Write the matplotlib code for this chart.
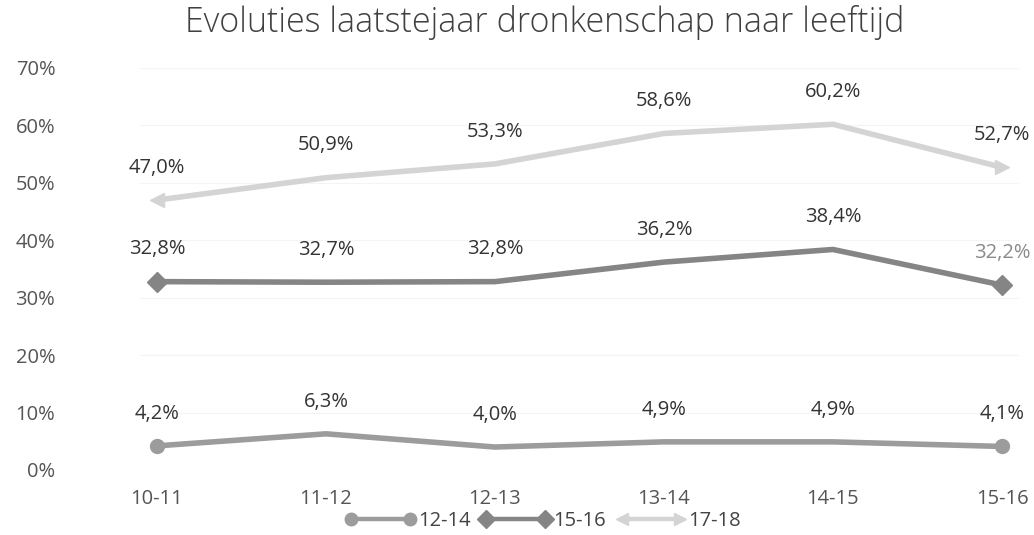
import matplotlib
matplotlib.use("Agg")
import matplotlib.pyplot as plt
from matplotlib.lines import Line2D
from matplotlib.legend_handler import HandlerLine2D

plt.rcParams['font.family'] = ['Open Sans', 'DejaVu Sans']

# data
years = ['10-11', '11-12', '12-13', '13-14', '14-15', '15-16']
age_groups = ['12-14', '15-16', '17-18']
drunk_12_14 = [4.2, 6.3, 4.0, 4.9, 4.9, 4.1]
drunk_15_16 = [32.8, 32.7, 32.8, 36.2, 38.4, 32.2]
drunk_17_18 = [47.0, 50.9, 53.3, 58.6, 60.2, 52.7]

series = [drunk_12_14, drunk_15_16, drunk_17_18]
colors = ['#9c9c9c', '#858585', '#d4d4d4']
end_markers = [('o', 'o'), ('D', 'D'), ('<', '>')]
label_colors = [['#333333'] * 6, ['#333333'] * 5 + ['#8a8a8a'], ['#333333'] * 6]


class EndMarkerHandler(HandlerLine2D):
    """legenda-lijn met eigen marker aan elk uiteinde"""
    def __init__(self, m_left, m_right, **kw):
        super().__init__(**kw)
        self.m_left = m_left
        self.m_right = m_right

    def create_artists(self, legend, orig_handle, xdescent, ydescent,
                       width, height, fontsize, trans):
        xdata, _ = self.get_xdata(legend, xdescent, ydescent, width, height, fontsize)
        y = (height - ydescent) / 2
        c = orig_handle.get_color()
        line = Line2D(xdata, [y, y], color=c, lw=3.2)
        left = Line2D([xdata[0]], [y], marker=self.m_left, color=c, ms=9, lw=0)
        right = Line2D([xdata[-1]], [y], marker=self.m_right, color=c, ms=9, lw=0)
        for a in (line, left, right):
            a.set_transform(trans)
        return [line, left, right]


fig = plt.figure(figsize=(10.34, 5.35), dpi=100)
ax = fig.add_axes([0.1354, 0.1215, 0.850, 0.7514])

x = list(range(len(years)))
handles = []
handler_map = {}
for vals, col, (ml, mr), lcols, name in zip(series, colors, end_markers, label_colors, age_groups):
    frac = [v / 100 for v in vals]
    h, = ax.plot(x, frac, color=col, lw=4, solid_capstyle='butt', zorder=3)
    ax.plot(x[0], frac[0], marker=ml, color=col, ms=10, lw=0, zorder=4)
    ax.plot(x[-1], frac[-1], marker=mr, color=col, ms=10, lw=0, zorder=4)
    for xi, v, f, lc in zip(x, vals, frac, lcols):
        ax.annotate(f'{v:.1f}%'.replace('.', ','), (xi, f), xytext=(0, 16),
                    textcoords='offset points', ha='center', va='bottom',
                    fontsize=14.5, color=lc)
    handles.append(h)
    handler_map[h] = EndMarkerHandler(ml, mr)

ax.set_xlim(-0.1, 5.1)
ax.set_ylim(0, 0.7)
ax.set_yticks([i / 10 for i in range(8)])
ax.set_yticklabels([f'{i * 10}%' for i in range(8)])
ax.set_xticks(x)
ax.set_xticklabels(years)
ax.tick_params(axis='y', length=0, pad=61, labelsize=14.5, labelcolor='#555555')
ax.tick_params(axis='x', length=0, pad=14, labelsize=14.5, labelcolor='#555555')
for lab in ax.get_yticklabels():
    lab.set_horizontalalignment('right')
for s in ax.spines.values():
    s.set_visible(False)
ax.grid(axis='y', color='#f4f4f4', lw=0.8)
ax.set_axisbelow(True)

fig.suptitle('Evoluties laatstejaar dronkenschap naar leeftijd', x=0.527, y=0.99,
             fontsize=24.5, color='#404040', va='top', fontweight='light')

fig.legend(handles, age_groups, handler_map=handler_map, loc='center',
           bbox_to_anchor=(0.528, 0.027), ncol=3, frameon=False, fontsize=14.5,
           handlelength=2.9, handletextpad=0.4, columnspacing=0.8,
           labelcolor='#444444', borderpad=0.1)

fig.savefig('out.png', dpi=100)
